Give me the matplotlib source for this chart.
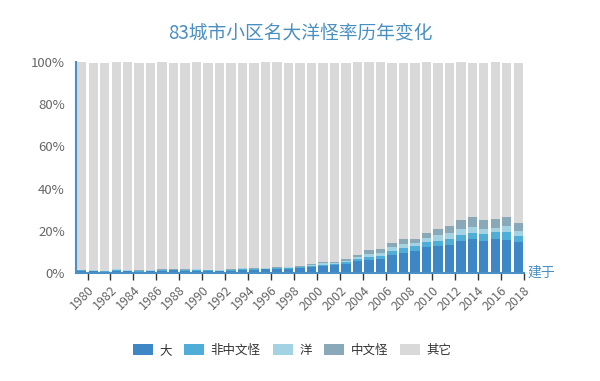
import numpy as np
import matplotlib
matplotlib.use('Agg')
import matplotlib.pyplot as plt
import matplotlib.transforms as mtransforms

plt.rcParams['font.family'] = ['Noto Sans CJK SC', 'DejaVu Sans']

# share of community names per build year, in %
years = [str(y) for y in range(1980, 2019)]
da = [1.0, 0.9, 0.6, 1.1, 0.8, 0.7, 0.8, 0.9, 1.2, 1.0,
      1.1, 1.0, 0.9, 1.0, 1.5, 1.6, 1.8, 1.9, 2.0, 2.3,
      3.0, 3.4, 3.7, 4.3, 5.6, 6.2, 6.5, 8.5, 9.3, 10.6,
      12.4, 12.8, 13.3, 15.3, 16.0, 15.3, 16.0, 15.6, 14.8]
fei_zhongwen_guai = [0.2, 0.2, 0.2, 0.3, 0.3, 0.2, 0.2, 0.3, 0.2, 0.3,
                     0.3, 0.2, 0.2, 0.3, 0.4, 0.3, 0.3, 0.4, 0.4, 0.4,
                     0.5, 0.6, 0.6, 0.8, 1.0, 1.5, 1.6, 2.0, 2.4, 2.0,
                     2.3, 2.5, 2.7, 2.8, 2.8, 3.0, 3.3, 3.9, 2.7]
yang = [0.2, 0.2, 0.1, 0.3, 0.2, 0.2, 0.2, 0.4, 0.2, 0.3,
        0.3, 0.2, 0.2, 0.2, 0.3, 0.2, 0.3, 0.3, 0.3, 0.3,
        0.4, 0.5, 0.5, 0.6, 0.9, 1.5, 1.5, 1.8, 2.0, 1.6,
        2.0, 2.5, 2.8, 2.8, 2.8, 2.4, 2.0, 2.8, 2.4]
zhongwen_guai = [0.1, 0.1, 0.1, 0.3, 0.2, 0.1, 0.1, 0.4, 0.2, 0.2,
                 0.3, 0.2, 0.2, 0.2, 0.4, 0.3, 0.2, 0.2, 0.3, 0.3,
                 0.4, 0.5, 0.6, 0.8, 1.0, 1.7, 1.8, 2.1, 2.4, 1.9,
                 2.4, 2.9, 3.5, 4.2, 4.8, 4.4, 4.3, 4.1, 3.6]
qita = [98.5, 98.3, 98.7, 97.8, 98.3, 98.5, 98.4, 98.0, 97.9, 97.9,
        98.0, 98.1, 98.2, 98.0, 97.1, 97.3, 97.4, 97.2, 96.7, 96.4,
        95.4, 94.7, 94.3, 93.2, 91.5, 89.1, 88.6, 85.3, 83.6, 83.6,
        80.9, 79.0, 77.4, 74.9, 73.3, 74.6, 74.2, 73.3, 76.2]

series = [('大', da, '#3d87c7'),
          ('非中文怪', fei_zhongwen_guai, '#4eaed8'),
          ('洋', yang, '#a3d2e2'),
          ('中文怪', zhongwen_guai, '#8aa9b8'),
          ('其它', qita, '#d9d9d9')]

axis_blue = '#4a90c4'

fig = plt.figure(figsize=(6, 3.81), dpi=100)
ax = fig.add_axes([0.1267, 0.2835, 0.7466, 0.5538])

x = np.arange(len(years))
bottom = np.zeros(len(years))
for name, vals, col in series:
    ax.bar(x, vals, width=0.82, bottom=bottom, color=col, label=name, linewidth=0)
    bottom += np.array(vals)

ax.set_xlim(-0.5, len(years) - 0.5)
ax.set_ylim(0, 100)

ax.set_yticks([0, 20, 40, 60, 80, 100])
ax.set_yticklabels(['0%', '20%', '40%', '60%', '80%', '100%'])
ax.tick_params(axis='y', length=0, pad=8, labelsize=9.5, labelcolor='#666666')

# labels on every other year, ticks on category boundaries
ax.set_xticks(x[::2])
ax.set_xticklabels(years[::2], rotation=45, ha='right', va='center',
                   rotation_mode='anchor')
ax.tick_params(axis='x', length=0, pad=11, labelsize=9, labelcolor='#666666')
shift = mtransforms.ScaledTranslation(10 / 100, 0, fig.dpi_scale_trans)
for lbl in ax.get_xticklabels():
    lbl.set_transform(lbl.get_transform() + shift)
ax.set_xticks(np.arange(0.5, len(years), 2), minor=True)
ax.tick_params(axis='x', which='minor', length=5, width=1, color='#333333')

for s in ['top', 'right']:
    ax.spines[s].set_visible(False)
for s in ['left', 'bottom']:
    ax.spines[s].set_color(axis_blue)
    ax.spines[s].set_linewidth(1.5)

ax.text(1.008, 0.0, '建于', transform=ax.transAxes, color=axis_blue,
        fontsize=10, ha='left', va='center')

fig.text(0.5, 0.915, '83城市小区名大洋怪率历年变化', color='#4a8fc2',
         fontsize=13.5, ha='center', va='center')

fig.legend(loc='center', bbox_to_anchor=(0.487, 0.081), ncol=5, frameon=False,
           fontsize=9, handlelength=1.6, handleheight=1.0, columnspacing=1.0,
           handletextpad=0.5, labelcolor='#333333')

fig.savefig('out.png', dpi=100)
